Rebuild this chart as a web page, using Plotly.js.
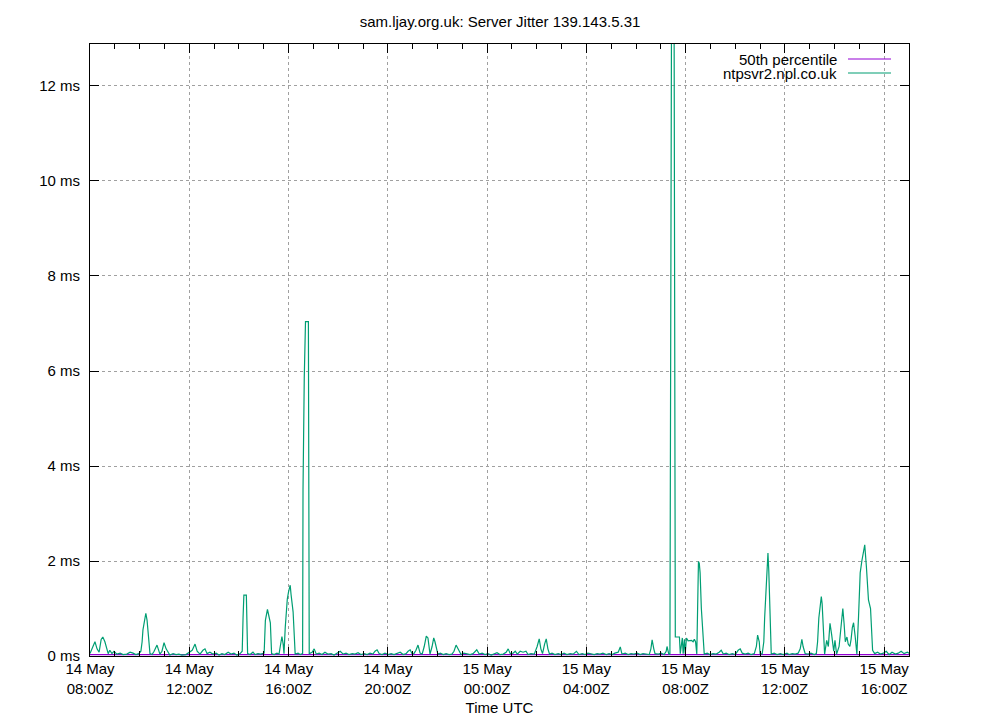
<!DOCTYPE html>
<html>
<head>
<meta charset="utf-8">
<script src="https://cdn.plot.ly/plotly-3.0.1.min.js"></script>
<style>
html,body{margin:0;padding:0;background:#fff;}
#chart{width:1000px;height:720px;}
</style>
</head>
<body>
<div id="chart"></div>
<script>
// Time origin: 14 May 08:00 UTC; offsets in minutes
const startTime = Date.UTC(2024, 4, 14, 8, 0);
const endTime = Date.UTC(2024, 4, 15, 17, 0);

// ntpsvr2.npl.co.uk jitter (ms)
const jitterMinutes = [
0,5,12,17,22,27,31,36,41,44,48,53,58,65,73,80,89,97,104,111,118,123,126,128,132,135,138,140,143,145,150,155,162,167,169,174,179,184,189,193,201,208,215,222,232,242,247,254,259,266,273,278,283,290,297,305,312,319,326,334,341,348,355,363,368,370,372,378,381,387,394,399,406,413,421,424,429,431,434,436,439,445,452,457,460,462,464,467,469,472,474,477,480,484,486,489,491,494,496,503,508,514,515,518,521,528,530,537,542,547,554,561,568,575,583,590,597,605,612,619,626,634,641,648,655,663,
670,677,684,689,694,699,706,713,721,728,735,742,750,757,764,769,774,779,783,788,793,798,803,808,813,817,820,822,827,831,834,838,841,847,854,861,868,875,880,885,892,897,904,912,919,926,935,941,948,955,962,970,977,984,991,999,1006,1011,1016,1023,1028,1033,1040,1047,1054,1059,1066,1074,1081,1086,1090,1094,1099,1103,1107,1111,1117,1124,1132,1139,1146,1153,1161,1168,1176,1182,1190,1197,1204,1211,1219,1226,1233,1240,1248,1255,1262,1269,1277,1282,1286,
1294,1301,1308,1315,1323,1330,1337,1344,1352,1356,1359,1363,1366,1374,1381,1388,1393,1395,1399,1402,1404,1406,1412,1413,1415,1425,1427,1432,1434,1437,1439,1442,1446,1454,1458,1461,1464,1467,1469,1471,1473,1475,1478,1482,1485,
1492,1499,1506,1514,1521,1526,1531,1538,1545,1553,1560,1567,1572,1577,1584,1591,1598,1606,1611,1614,1618,1620,1625,1629,1631,1634,1636,1639,1641,1643,1645,1647,1654,1661,1669,1676,1685,1690,1698,1705,1712,1717,1721,1724,1729,1736,1743,1751,1756,1759,1762,1765,1768,1770,1773,1776,1781,1785,1787,1789,1793,1795,1798,1801,1805,1811,1815,1818,1820,1823,1826,1830,1833,1837,1840,1843,1846,1850,1854,1858,1862,1866,1869,1873,1877,1879,1882,1887,1890,1892,1897,1904,1911,1918,1925,1932,1939,1947,1954,1961,1968,1976,1980
];
const jitterValues = [
0.05,0.15,0.3,0.15,0.08,0.35,0.4,0.3,0.15,0.05,0.12,0.05,0.1,0.04,0.06,0.03,0.04,0.08,0.06,0.03,0.05,0.1,0.3,0.55,0.75,0.9,0.75,0.5,0.3,0.05,0.03,0.1,0.23,0.12,0.04,0.1,0.28,0.15,0.08,0.02,0.05,0.03,0.04,0.02,0.03,0.08,0.12,0.25,0.1,0.04,0.12,0.15,0.05,0.08,0.04,0.06,0.02,0.05,0.03,0.08,0.04,0.06,0.02,0.05,0.1,0.8,1.28,1.28,0.05,0.03,0.08,0.03,0.05,0.04,0.06,0.75,0.98,0.9,0.8,0.7,0.05,0.03,0.06,0.04,0.2,0.35,0.41,0.25,0.05,0.6,0.9,1.2,1.35,1.49,1.3,1.1,0.93,0.4,0.04,0.06,0.03,0.05,3.5,5.85,7.04,7.04,0.05,0.08,0.15,0.04,0.06,0.03,0.08,0.04,0.05,0.02,0.06,0.1,0.04,0.06,0.03,0.05,0.04,0.07,0.03,0.05,
0.03,0.06,0.04,0.1,0.13,0.05,0.03,0.06,0.03,0.05,0.03,0.06,0.08,0.03,0.05,0.1,0.13,0.04,0.05,0.12,0.23,0.06,0.04,0.2,0.42,0.38,0.2,0.04,0.2,0.38,0.3,0.15,0.04,0.06,0.03,0.05,0.03,0.04,0.1,0.23,0.1,0.03,0.06,0.04,0.03,0.05,0.13,0.04,0.06,0.03,0.05,0.02,0.04,0.07,0.03,0.04,0.08,0.15,0.05,0.06,0.1,0.04,0.1,0.08,0.1,0.03,0.05,0.04,0.2,0.36,0.15,0.05,0.25,0.36,0.15,0.04,0.06,0.03,0.05,0.03,0.06,0.03,0.05,0.04,0.1,0.03,0.05,0.03,0.06,0.04,0.03,0.05,0.04,0.06,0.03,0.05,0.03,0.06,0.08,0.19,0.04,
0.06,0.03,0.05,0.04,0.06,0.03,0.05,0.04,0.03,0.15,0.34,0.15,0.05,0.04,0.06,0.03,0.1,0.2,0.05,0.03,6.4,14,14,6.65,0.4,0.4,0.05,0.38,0.05,0.35,0.05,0.38,0.32,0.33,0.3,0.35,0.3,0.04,1.0,1.99,1.95,1.75,1.0,0.3,0.04,
0.06,0.03,0.05,0.04,0.08,0.12,0.04,0.06,0.03,0.05,0.03,0.12,0.15,0.06,0.04,0.06,0.03,0.05,0.2,0.44,0.3,0.05,0.04,0.3,0.8,1.43,1.8,2.17,1.8,1.0,0.55,0.04,0.06,0.03,0.05,0.03,0.06,0.03,0.05,0.04,0.06,0.15,0.35,0.2,0.05,0.04,0.06,0.03,0.05,0.3,0.8,1.1,1.25,1.1,0.4,0.04,0.33,0.2,0.45,0.69,0.45,0.25,0.1,0.33,0.04,0.2,0.5,0.85,1.0,0.69,0.3,0.4,0.25,0.2,0.35,0.6,0.7,0.4,0.04,0.83,1.75,2.0,2.17,2.34,1.88,1.5,1.18,1.0,0.5,0.12,0.05,0.08,0.04,0.06,0.1,0.03,0.08,0.04,0.06,0.1,0.05,0.08,0.06
];

// 50th percentile (ms)
const p50Minutes = [0, 1980];
const p50Values = [0.03, 0.03];

// Axis ticks
const tickMinutes = [0, 240, 480, 720, 960, 1200, 1440, 1680, 1920];
const tickLabels = ["14 May<br>08:00Z","14 May<br>12:00Z","14 May<br>16:00Z","14 May<br>20:00Z","15 May<br>00:00Z","15 May<br>04:00Z","15 May<br>08:00Z","15 May<br>12:00Z","15 May<br>16:00Z"];
const yTickVals = [0, 2, 4, 6, 8, 10, 12];
const yTickText = ["0 ms","2 ms","4 ms","6 ms","8 ms","10 ms","12 ms"];

const seriesNames = ["50th percentile", "ntpsvr2.npl.co.uk"];
const seriesColors = ["#9400d3", "#009e73"];

const toTime = m => startTime + m * 60000;

const traces = [
  {x: p50Minutes.map(toTime), y: p50Values, type: 'scatter', mode: 'lines', name: seriesNames[0],
   line: {color: seriesColors[0], width: 1.2}, showlegend: false, hoverinfo: 'x+y'},
  {x: jitterMinutes.map(toTime), y: jitterValues, type: 'scatter', mode: 'lines', name: seriesNames[1],
   line: {color: seriesColors[1], width: 1.2}, showlegend: false, hoverinfo: 'x+y'}
];

const FONT = 'Liberation Sans, Arial, sans-serif';
const plotW = 819, plotH = 612;
const legendRows = [59, 73];

const annotations = seriesNames.map((n, i) => ({
  xref: 'paper', yref: 'paper', x: (838 - 90) / plotW, y: (656 - legendRows[i]) / plotH,
  xanchor: 'right', yanchor: 'middle', text: n, showarrow: false,
  borderpad: 0,
  font: {family: FONT, size: 15, color: '#000'}
}));
const shapes = seriesNames.map((n, i) => ({
  type: 'line', xref: 'paper', yref: 'paper',
  x0: (848 - 90) / plotW, x1: (891 - 90) / plotW,
  y0: (656 - legendRows[i]) / plotH, y1: (656 - legendRows[i]) / plotH,
  line: {color: seriesColors[i], width: 1.2}
}));

const layout = {
  width: 1000, height: 720,
  margin: {l: 90, r: 91, t: 44, b: 64},
  paper_bgcolor: '#fff', plot_bgcolor: '#fff',
  font: {family: FONT, size: 15, color: '#000'},
  title: {text: 'sam.ljay.org.uk: Server Jitter 139.143.5.31', x: 0.5, xanchor: 'center',
          y: 1 - 22 / 720, yanchor: 'middle', yref: 'container',
          font: {family: FONT, size: 15, color: '#000'}},
  showlegend: false,
  xaxis: {
    type: 'date', range: [startTime, endTime],
    tickmode: 'array', tickvals: tickMinutes.map(toTime), ticktext: tickLabels,
    ticks: 'inside', ticklen: 9, tickwidth: 1, tickcolor: '#000',
    showline: true, linecolor: '#000', linewidth: 1, mirror: 'ticks',
    showgrid: true, gridcolor: '#a0a0a0', griddash: 'dot', gridwidth: 1,
    zeroline: false,
    minor: {dtick: 3600000, tick0: startTime, ticks: 'inside', ticklen: 5, tickcolor: '#000', showgrid: false},
    tickfont: {family: FONT, size: 15, color: '#000'},
    ticklabelstandoff: -1,
    title: {text: 'Time UTC', standoff: 6, font: {family: FONT, size: 15, color: '#000'}},
    fixedrange: true
  },
  yaxis: {
    range: [0, 12.884],
    tickmode: 'array', tickvals: yTickVals, ticktext: yTickText,
    ticks: 'inside', ticklen: 9, tickwidth: 1, tickcolor: '#000',
    showline: true, linecolor: '#000', linewidth: 1, mirror: 'ticks',
    showgrid: true, gridcolor: '#a0a0a0', griddash: 'dot', gridwidth: 1,
    zeroline: false,
    tickfont: {family: FONT, size: 15, color: '#000'},
    ticklabelstandoff: 6,
    fixedrange: true
  },
  annotations: annotations,
  shapes: shapes
};

Plotly.newPlot('chart', traces, layout, {displayModeBar: false, staticPlot: true});
</script>
</body>
</html>
